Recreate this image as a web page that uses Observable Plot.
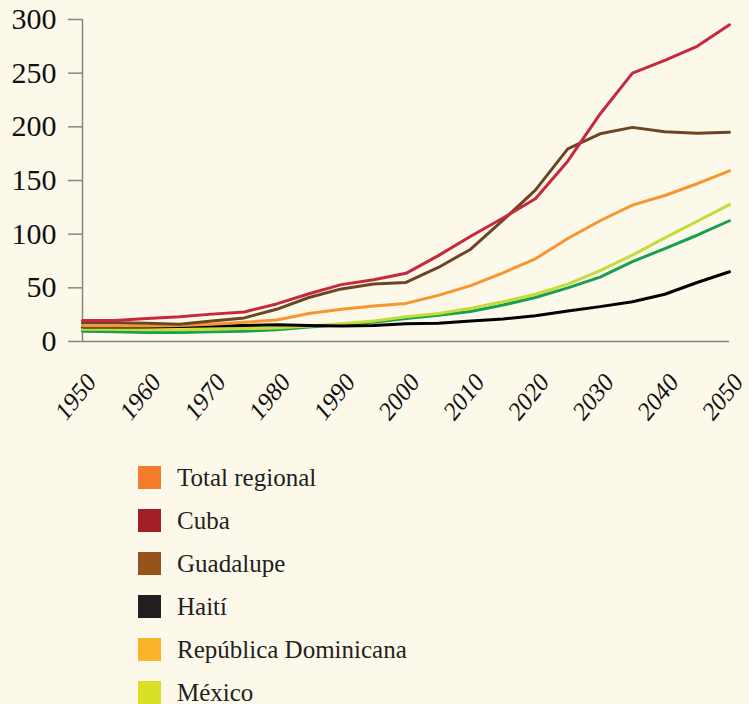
<!DOCTYPE html>
<html>
<head>
<meta charset="utf-8">
<script src="https://cdn.jsdelivr.net/npm/d3@7"></script>
<script src="https://cdn.jsdelivr.net/npm/@observablehq/plot@0.6"></script>
<style>
html, body { margin: 0; padding: 0; background: #fcf9eb; }
#chart { width: 749px; }
#legend { margin-top: 26px; margin-left: 138px; font-family: "Liberation Serif", serif; font-size: 25px; color: #231f20; }
.item { display: flex; align-items: center; height: 43px; }
.sw { width: 23px; height: 23px; margin-right: 16px; flex: none; }
</style>
</head>
<body>
<div id="chart"></div>
<div id="legend"></div>
<script>
const years = [1950,1955,1960,1965,1970,1975,1980,1985,1990,1995,2000,2005,2010,2015,2020,2025,2030,2035,2040,2045,2050];
const yTicks = [0,50,100,150,200,250,300];
const xTicks = [1950,1960,1970,1980,1990,2000,2010,2020,2030,2040,2050];

// drawing order: bottom to top
const seriesNames = ["Verde", "México", "Haití", "Total regional", "Guadalupe", "Cuba"];
const lineColors  = ["#17a04f", "#c7da3b", "#000000", "#f7952f", "#6b4524", "#c8283b"];

const verde     = [9.5,9,8.5,8.5,9,9.5,11,13.5,15.5,18,21.5,24.5,28,34,41,50,60,74.5,86.5,99,112.5];
const mexico    = [11.5,11.5,11,11,11.5,12,12.5,14.5,16.5,19,23,26,31,37,44,53.5,66,80.5,96.5,112,127.5];
const haiti     = [13.5,13.5,13.5,14,14.5,15,15.5,15,14.5,15,16.5,17,19,21,24,28.5,32.5,37,44,55,65];
const total     = [14.5,14.5,14.5,15,16,18,20,26,30,33,35.5,43,52,64,77,96,112.5,127,136,147,159];
const guadalupe = [17.5,17.5,17,16,19,22,30,41,49,53.5,55,69,86,113,141,179.5,193.5,199.5,195.5,194,195];
const cuba      = [19.5,19.5,21.5,23,25.5,27.5,35,44.5,53,57.5,63.5,80,98,115,133,168,212,250,262,275,295];
const seriesValues = [verde, mexico, haiti, total, guadalupe, cuba];

const legendNames  = ["Total regional", "Cuba", "Guadalupe", "Haití", "República Dominicana", "México"];
const legendColors = ["#f47c2c", "#a11f25", "#97511a", "#231f20", "#fbb32b", "#d8df24"];

const rows = [];
seriesNames.forEach((name, s) => {
  seriesValues[s].forEach((v, i) => rows.push({name, year: years[i], value: v}));
});

const axisColor = "#8a857d";

const chart = Plot.plot({
  width: 749,
  height: 430,
  marginLeft: 82,
  marginRight: 20,
  marginTop: 19,
  marginBottom: 89,
  style: { background: "transparent", fontFamily: "Liberation Serif, serif" },
  x: { domain: [1950, 2050], axis: null },
  y: { domain: [0, 300], axis: null },
  color: { domain: seriesNames, range: lineColors },
  marks: [
    Plot.axisY(yTicks, { tickSize: 14, tickPadding: 12, fontSize: 30, stroke: axisColor, fill: "#111", strokeWidth: 1.5, label: null }),
    Plot.ruleX([1950], { stroke: axisColor, strokeWidth: 1.5 }),
    Plot.ruleY([0], { stroke: axisColor, strokeWidth: 1.5 }),
    Plot.lineY(rows, { x: "year", y: "value", z: "name", stroke: "name", strokeWidth: 3 }),
    Plot.text(xTicks, {
      x: d => d, frameAnchor: "bottom", text: d => String(d),
      rotate: -51, textAnchor: "end", lineAnchor: "middle",
      dx: 9, dy: 36, fontSize: 25, fontStyle: "italic", fill: "#111"
    })
  ]
});
document.getElementById("chart").appendChild(chart);

const legend = document.getElementById("legend");
legendNames.forEach((n, i) => {
  const it = document.createElement("div");
  it.className = "item";
  const sw = document.createElement("div");
  sw.className = "sw";
  sw.style.background = legendColors[i];
  const t = document.createElement("span");
  t.textContent = n;
  it.appendChild(sw);
  it.appendChild(t);
  legend.appendChild(it);
});
</script>
</body>
</html>
